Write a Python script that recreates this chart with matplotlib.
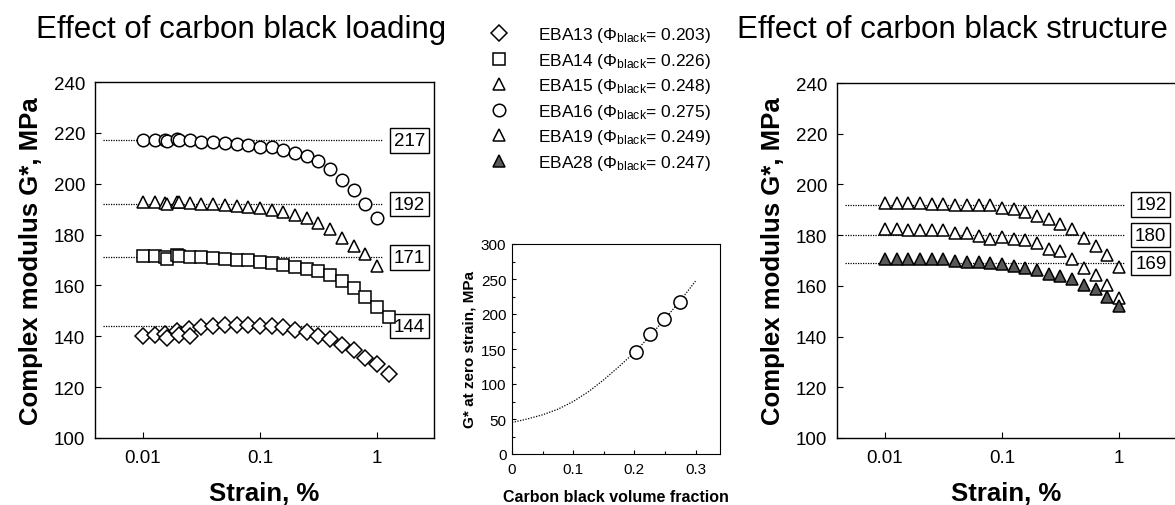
import numpy as np
import matplotlib
matplotlib.use("Agg")
import matplotlib.pyplot as plt
from matplotlib.lines import Line2D
from matplotlib.ticker import FixedLocator, FixedFormatter, NullLocator, MultipleLocator

plt.rcParams['font.family'] = ['Liberation Sans', 'DejaVu Sans']
plt.rcParams['mathtext.fontset'] = 'custom'
plt.rcParams['mathtext.rm'] = 'Liberation Sans'
plt.rcParams['mathtext.it'] = 'Liberation Sans:italic'
plt.rcParams['mathtext.bf'] = 'Liberation Sans:bold'

# ---- data: effect of carbon black loading (left panel) ----
strain_a = [0.01, 0.0126, 0.0155, 0.016, 0.0197, 0.0203, 0.0251, 0.0316, 0.0398, 0.0501,
            0.0631, 0.0794, 0.1, 0.126, 0.158, 0.2, 0.251, 0.316, 0.398, 0.501, 0.631, 0.794, 1.0]
eba16 = [217.0, 217.0, 217.0, 216.7, 217.5, 217.3, 217.0, 216.6, 216.5, 216.1, 215.6, 215.4,
         214.6, 214.5, 213.4, 212.1, 210.8, 208.8, 205.6, 201.4, 197.5, 192.0, 186.6]
eba15 = [192.7, 192.7, 192.5, 192.0, 193.0, 192.8, 192.5, 192.2, 192.0, 191.6, 191.2, 191.0,
         190.3, 189.8, 188.8, 187.7, 186.4, 184.4, 182.2, 178.8, 175.7, 172.4, 167.6]
strain_b = strain_a + [1.26]
eba14 = [171.5, 171.5, 171.0, 170.4, 172.0, 171.6, 171.3, 171.0, 170.9, 170.5, 170.1, 169.9,
         169.4, 169.0, 168.0, 167.3, 166.4, 165.5, 164.0, 161.8, 158.8, 155.3, 151.4, 147.5]
strain_c = [0.01, 0.0126, 0.0155, 0.016, 0.0197, 0.0203, 0.0246, 0.0255, 0.0316, 0.0398,
            0.0501, 0.0631, 0.0794, 0.1, 0.126, 0.158, 0.2, 0.251, 0.316, 0.398, 0.501,
            0.631, 0.794, 1.0, 1.26]
eba13 = [140.2, 140.4, 141.0, 139.3, 142.2, 140.6, 142.8, 140.0, 143.8, 144.2, 144.3, 144.3,
         144.3, 144.2, 144.0, 143.8, 142.6, 141.8, 140.1, 138.8, 136.6, 134.6, 131.6, 129.1, 125.0]
plateau_left = [217, 192, 171, 144]

# ---- data: effect of carbon black structure (right panel) ----
strain_r = [0.01, 0.0126, 0.0158, 0.02, 0.0251, 0.0316, 0.0398, 0.0501, 0.0631, 0.0794, 0.1,
            0.126, 0.158, 0.2, 0.251, 0.316, 0.398, 0.501, 0.631, 0.794, 1.0]
eba15_r = [192.8, 192.7, 192.7, 192.7, 192.4, 192.4, 191.7, 191.7, 191.7, 191.7, 190.7,
           190.2, 189.1, 187.5, 186.5, 184.2, 182.3, 179.0, 175.7, 172.0, 167.4]
eba19_r = [182.3, 182.3, 182.2, 182.2, 181.9, 181.9, 181.0, 181.0, 179.5, 178.6, 179.3,
           178.6, 178.0, 177.0, 174.7, 173.6, 170.7, 167.0, 164.4, 160.2, 155.2]
eba28_r = [170.7, 170.7, 170.7, 170.7, 170.5, 170.7, 170.0, 169.4, 169.4, 169.0, 168.7,
           167.8, 167.0, 166.1, 164.8, 163.9, 162.8, 160.5, 158.6, 155.6, 152.1]
plateau_right = [192, 180, 169]

# ---- data: inset, G* at zero strain vs volume fraction ----
phi_pts = [0.203, 0.226, 0.248, 0.275]
g0_pts = [146, 172, 193, 217]
phi_fit = [0, 0.025, 0.05, 0.075, 0.1, 0.125, 0.15, 0.175, 0.2, 0.225, 0.25, 0.275, 0.3]
g0_fit = [45, 50, 56, 64, 75, 89, 106, 125, 145, 168, 193, 219, 247]

legend_labels = ["EBA13 (Φ$_{\\mathrm{black}}$= 0.203)",
                 "EBA14 (Φ$_{\\mathrm{black}}$= 0.226)",
                 "EBA15 (Φ$_{\\mathrm{black}}$= 0.248)",
                 "EBA16 (Φ$_{\\mathrm{black}}$= 0.275)",
                 "EBA19 (Φ$_{\\mathrm{black}}$= 0.249)",
                 "EBA28 (Φ$_{\\mathrm{black}}$= 0.247)"]

W, H = 1175, 506
fig = plt.figure(figsize=(W / 100, H / 100), dpi=100)


def box(x0, x1, top, bottom):
    return [x0 / W, 1 - bottom / H, (x1 - x0) / W, (bottom - top) / H]


def strain_axes(ax):
    ax.set_xscale('log')
    ax.set_xlim(0.0039, 3.07)
    ax.set_ylim(100, 240)
    ax.xaxis.set_major_locator(FixedLocator([0.01, 0.1, 1]))
    ax.xaxis.set_major_formatter(FixedFormatter(["0.01", "0.1", "1"]))
    ax.xaxis.set_minor_locator(NullLocator())
    ax.yaxis.set_major_locator(MultipleLocator(20))
    ax.tick_params(direction='in', labelsize=13.5, length=4, width=0.8, pad=8)
    ax.tick_params(axis='y', pad=7)
    for s in ax.spines.values():
        s.set_linewidth(1.0)
    ax.set_xlabel("Strain, %", fontsize=18.5, fontweight='bold', labelpad=11)
    ax.set_ylabel("Complex modulus G*, MPa", fontsize=18.5, fontweight='bold', labelpad=8)


def plateau(ax, values, xlab):
    for v in values:
        ax.plot([0.0046, 1.12], [v, v], ls=(0, (1, 1)), color='k', lw=0.9, zorder=1)
        ax.text(xlab, v, str(v), fontsize=13.5, ha='center', va='center',
                bbox=dict(boxstyle='square,pad=0.2', fc='white', ec='k', lw=1.0))


mk = dict(ls='none', mfc='white', mec='k', mew=1.1, zorder=3)

# left panel
ax1 = fig.add_axes(box(95, 434, 83, 439))
strain_axes(ax1)
plateau(ax1, plateau_left, 1.9)
ax1.plot(strain_c, eba13, marker='D', ms=8, **mk)
ax1.plot(strain_b, eba14, marker='s', ms=8.5, **mk)
ax1.plot(strain_a, eba15, marker='^', ms=8.5, **mk)
ax1.plot(strain_a, eba16, marker='o', ms=9, **mk)

# right panel
ax2 = fig.add_axes(box(837, 1176, 84, 439))
strain_axes(ax2)
plateau(ax2, plateau_right, 1.87)
ax2.plot(strain_r, eba15_r, marker='^', ms=9, **mk)
ax2.plot(strain_r, eba19_r, marker='^', ms=9, **mk)
ax2.plot(strain_r, eba28_r, marker='^', ms=9, ls='none', mfc='0.35', mec='k', mew=1.1, zorder=3)

# inset
ax3 = fig.add_axes(box(512, 720, 245, 455))
ax3.plot(phi_fit, g0_fit, ls=(0, (1, 1.2)), color='k', lw=0.9, zorder=1)
ax3.plot(phi_pts, g0_pts, marker='o', ms=9.5, **mk)
ax3.set_xlim(0, 0.34)
ax3.set_ylim(0, 300)
ax3.xaxis.set_major_locator(FixedLocator([0, 0.1, 0.2, 0.3]))
ax3.xaxis.set_major_formatter(FixedFormatter(["0", "0.1", "0.2", "0.3"]))
ax3.yaxis.set_major_locator(MultipleLocator(50))
ax3.xaxis.set_minor_locator(MultipleLocator(0.05))
ax3.yaxis.set_minor_locator(MultipleLocator(25))
ax3.tick_params(which='both', direction='in', labelsize=11, width=0.8)
ax3.tick_params(which='major', length=3)
ax3.tick_params(which='minor', length=2)
ax3.tick_params(axis='x', pad=6)
ax3.tick_params(axis='y', pad=4)
ax3.set_xlabel("Carbon black volume fraction", fontsize=11.5, fontweight='bold', labelpad=9)
ax3.set_ylabel("G* at zero strain, MPa", fontsize=11, fontweight='bold', labelpad=3)

# titles
fig.text(241 / W, 1 - 30 / H, "Effect of carbon black loading", fontsize=22.5, ha='center', va='center')
fig.text(737 / W, 1 - 30 / H, "Effect of carbon black structure", fontsize=22.5, ha='left', va='center')

# legend
handles = [Line2D([], [], marker='D', ms=8, ls='none', mfc='white', mec='k', mew=1.1),
           Line2D([], [], marker='s', ms=8, ls='none', mfc='white', mec='k', mew=1.1),
           Line2D([], [], marker='^', ms=8, ls='none', mfc='white', mec='k', mew=1.1),
           Line2D([], [], marker='o', ms=9, ls='none', mfc='white', mec='k', mew=1.1),
           Line2D([], [], marker='^', ms=8, ls='none', mfc='white', mec='k', mew=1.1),
           Line2D([], [], marker='^', ms=8, ls='none', mfc='0.35', mec='k', mew=1.1)]
fig.legend(handles, legend_labels, loc='upper left', bbox_to_anchor=(489 / W, 1 - 26 / H),
           frameon=False, fontsize=12.5, handlelength=1.2, handletextpad=1.6,
           labelspacing=0.38, borderpad=0, borderaxespad=0)

fig.savefig("out.png", dpi=100)
